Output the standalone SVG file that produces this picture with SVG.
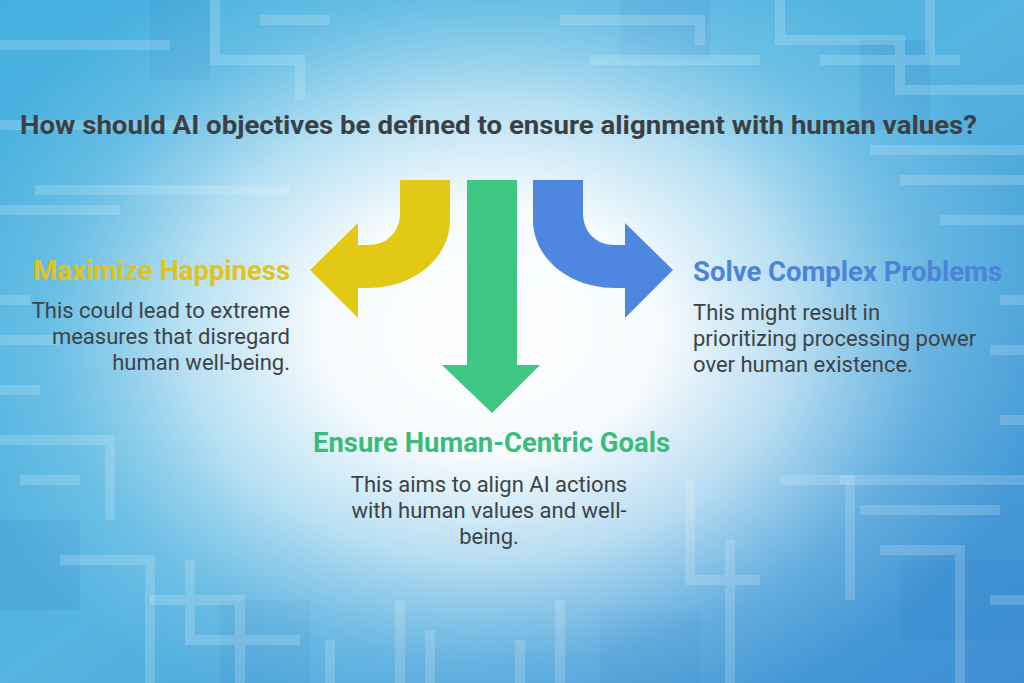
<svg xmlns="http://www.w3.org/2000/svg" width="1024" height="683" viewBox="0 0 1024 683">
<defs>
<linearGradient id="bgLin" x1="0" y1="0" x2="1" y2="1">
<stop offset="0" stop-color="#45b0de"/>
<stop offset="0.5" stop-color="#55b4e0"/>
<stop offset="1" stop-color="#3f8ed2"/>
</linearGradient>
<radialGradient id="glow" cx="490" cy="330" r="560" gradientUnits="userSpaceOnUse" gradientTransform="translate(490 330) scale(1 0.75) translate(-490 -330)">
<stop offset="0" stop-color="#ffffff" stop-opacity="1"/>
<stop offset="0.3" stop-color="#ffffff" stop-opacity="0.95"/>
<stop offset="0.55" stop-color="#eef8fd" stop-opacity="0.65"/>
<stop offset="0.8" stop-color="#cdeaf7" stop-opacity="0.2"/>
<stop offset="1" stop-color="#cdeaf7" stop-opacity="0"/>
</radialGradient>
<style>
.title{font-family:Roboto,"Liberation Sans",sans-serif;font-weight:700;font-size:26px;fill:#3b4043}
.head{font-family:Roboto,"Liberation Sans",sans-serif;font-weight:700;font-size:27px}
.body{font-family:Roboto,"Liberation Sans",sans-serif;font-weight:400;font-size:22px;fill:#3d4346}
.circ{fill:none;stroke:#ffffff;stroke-opacity:0.18;stroke-width:10}
.blk{fill:#2a78c0;fill-opacity:0.14}
</style>
</defs>

<g id="background">
<rect x="0" y="0" width="1024" height="683" fill="url(#bgLin)"/>
<g id="circuit">
<rect class="blk" x="150" y="0" width="60" height="80"/>
<rect class="blk" x="620" y="0" width="90" height="60"/>
<rect class="blk" x="860" y="40" width="70" height="90"/>
<rect class="blk" x="0" y="520" width="80" height="90"/>
<rect class="blk" x="900" y="560" width="124" height="80"/>
<rect class="blk" x="220" y="600" width="90" height="83"/>
<rect class="blk" x="600" y="610" width="100" height="73"/>
<path class="circ" d="M0 45 H170 M0 125 H200 M35 190 H290 M0 210 H120"/>
<path class="circ" d="M215 0 V60 H300 V100 M260 20 H330"/>
<path class="circ" d="M560 20 H700 V45 M590 60 H760"/>
<path class="circ" d="M780 0 V40 H900 V90 H1024 M820 60 H960 M930 0 V60"/>
<path class="circ" d="M870 150 H1024 M900 180 H1024 M940 220 H1024"/>
<path class="circ" d="M0 300 H30 M0 340 H60 M0 390 H40"/>
<path class="circ" d="M0 440 H110 V520 M20 480 H80 M60 560 H150 V683"/>
<path class="circ" d="M150 600 H240 V683 M190 560 V640 H300"/>
<path class="circ" d="M330 640 V683 M400 600 V683 M430 630 V683"/>
<path class="circ" d="M520 640 V683 M560 600 V683"/>
<path class="circ" d="M690 480 V580 H760 M780 480 H850 V600 M730 540 V683"/>
<path class="circ" d="M840 480 H1024 M860 510 H1000 M880 550 H960 V683 M990 600 H1024"/>
<path class="circ" d="M1000 300 H1024 M990 350 H1024 M1000 420 H1024"/>
</g>
<rect x="0" y="0" width="1024" height="683" fill="url(#glow)"/>
</g>

<g id="title">
<text class="title" x="20" y="134" textLength="957" lengthAdjust="spacingAndGlyphs">How should AI objectives be defined to ensure alignment with human values?</text>
</g>

<g id="connectors">
<path id="arrow-left" fill="#e2c915" d="M400 180 L450 180 L450 220 C450 258 414 288 368 288 L358 288 L358 318 L310 270 L358 223 L358 245 L368 245 C387 245 400 232 400 213 Z"/>
<path id="arrow-down" fill="#3ec683" d="M467 180 L517 180 L517 365 L540 365 L492 413 L442 365 L467 365 Z"/>
<path id="arrow-right" fill="#4e86e0" d="M583 180 L533 180 L533 220 C533 258 569 288 615 288 L625 288 L625 318 L673 270 L625 223 L625 245 L615 245 C596 245 583 232 583 213 Z"/>
</g>

<g id="node-maximize">
<text class="head" x="290" y="280" text-anchor="end" fill="#e0c31c" textLength="257" lengthAdjust="spacingAndGlyphs">Maximize Happiness</text>
<text class="body" x="290" y="318" text-anchor="end">This could lead to extreme</text>
<text class="body" x="290" y="344" text-anchor="end">measures that disregard</text>
<text class="body" x="290" y="370" text-anchor="end">human well-being.</text>
</g>

<g id="node-solve">
<text class="head" x="693" y="281" fill="#4c84d9" textLength="309" lengthAdjust="spacingAndGlyphs">Solve Complex Problems</text>
<text class="body" x="693" y="320">This might result in</text>
<text class="body" x="693" y="346">prioritizing processing power</text>
<text class="body" x="693" y="372">over human existence.</text>
</g>

<g id="node-ensure">
<text class="head" x="313" y="452" fill="#3dbb7d" textLength="357" lengthAdjust="spacingAndGlyphs">Ensure Human-Centric Goals</text>
<text class="body" x="489" y="492" text-anchor="middle">This aims to align AI actions</text>
<text class="body" x="489" y="518" text-anchor="middle">with human values and well-</text>
<text class="body" x="489" y="544" text-anchor="middle">being.</text>
</g>
</svg>
